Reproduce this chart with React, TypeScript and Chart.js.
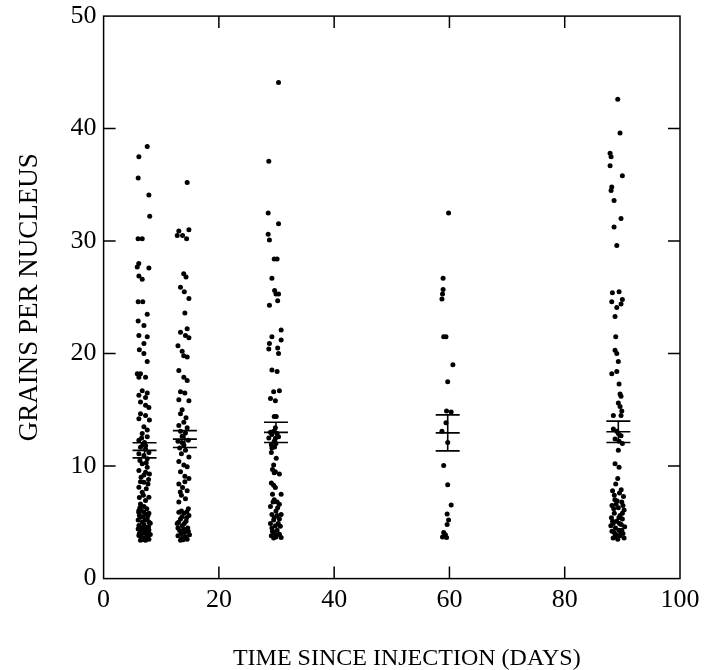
import React, { useEffect, useRef } from "react";
import { Chart, registerables } from "chart.js";

Chart.register(...registerables);

// x range and tick step (days), y range and tick step (grains)
const xTickStep = 20;
const yTickStep = 10;
const xTitle = "TIME SINCE INJECTION (DAYS)";
const yTitle = "GRAINS PER NUCLEUS";

// Individual nuclei, [day (jittered), grains]
const day7Points: [number, number][] = [
  [7.57, 38.4], [6.12, 37.5], [6.0, 35.6], [7.86, 34.1], [8.0, 32.2], [5.98, 30.2], [6.7, 30.2],
  [6.1, 28.0], [5.84, 27.7], [7.86, 27.6], [6.12, 26.9], [6.7, 26.6], [6.0, 24.6], [6.8, 24.6],
  [7.57, 23.5], [6.0, 22.9], [7.0, 22.5],
  [6.12, 21.6], [7.57, 21.5], [7.0, 20.9], [6.2, 20.35], [6.99, 20.0], [7.57, 19.3],
  [5.84, 18.2], [6.4, 18.2], [7.28, 17.9], [6.12, 17.9],
  [6.7, 16.7], [7.57, 16.5], [6.12, 16.3], [7.28, 16.1],
  [6.4, 15.7], [7.28, 15.4], [7.86, 15.2],
  [6.4, 14.65], [7.28, 14.5], [6.12, 14.2], [7.95, 14.1],
  [6.99, 13.5], [7.57, 13.2], [6.7, 12.9],
  [7.57, 12.6], [6.12, 12.3], [7.1, 12.1], [6.6, 12.5], [6.8, 11.9], [7.3, 11.8],
  [6.4, 11.68], [7.28, 11.5], [7.86, 11.2], [6.12, 11.1], [6.99, 10.95], [7.57, 10.66],
  [6.3, 10.5], [7.4, 10.3],
  [6.7, 10.2], [7.57, 9.9], [6.12, 9.6], [7.28, 9.46], [7.95, 9.3], [7.0, 9.2], [6.5, 9.0],
  [7.8, 8.8], [6.4, 8.6],
  [6.99, 8.57], [7.7, 8.42], [6.12, 8.13], [7.4, 7.98], [6.7, 7.68], [6.9, 7.4], [6.2, 7.2],
  [7.86, 7.24], [7.28, 6.94], [6.4, 6.64], [7.0, 6.4], [6.3, 6.3], [7.5, 6.2], [6.6, 6.0],
  [6.12, 6.05], [6.99, 5.9], [6.1, 5.9], [7.86, 5.81], [7.4, 5.7], [6.8, 5.5], [6.4, 5.46],
  [7.57, 5.3], [6.0, 5.2], [6.7, 5.0], [7.9, 5.0], [8.1, 4.92],
  [6.12, 4.71], [7.8, 4.6], [7.28, 4.57], [6.9, 4.4], [7.86, 4.33], [7.3, 4.3], [6.4, 4.27],
  [6.99, 4.03], [6.2, 4.0], [8.1, 3.92], [6.12, 3.83], [7.65, 3.8],
  [7.4, 3.68], [6.5, 3.7], [6.7, 3.5], [7.86, 3.5], [7.1, 3.45], [6.4, 3.4], [7.28, 3.4],
  [6.2, 5.6], [7.2, 5.2], [6.6, 4.5], [7.6, 4.1], [6.0, 4.4], [7.0, 4.8], [6.9, 3.6], [7.7, 5.6], [6.3, 3.9],
];

const day14Points: [number, number][] = [
  [14.5, 35.2], [13.05, 30.9], [14.8, 31.0], [12.77, 30.5], [13.7, 30.5], [14.4, 30.2], [13.9, 27.1],
  [14.3, 26.8], [13.34, 25.9], [14.0, 25.5], [14.8, 24.9], [14.1, 23.6], [14.5, 22.2],
  [13.34, 21.9], [14.2, 21.6], [14.8, 21.4], [12.9, 20.7], [13.63, 20.2], [13.9, 19.8], [14.5, 19.7],
  [13.05, 18.5], [13.92, 17.9], [14.5, 17.6],
  [13.34, 16.6], [14.1, 16.5], [13.05, 15.9], [14.8, 15.8],
  [13.63, 15.0], [13.34, 14.65], [14.3, 14.3], [13.92, 13.9], [13.05, 13.6], [14.5, 13.4],
  [13.34, 13.1], [14.2, 12.95], [13.63, 12.65], [12.9, 12.2], [14.7, 12.3], [13.6, 12.1], [13.92, 11.85],
  [13.2, 11.6], [14.2, 11.4], [13.5, 11.1], [14.8, 10.8], [13.05, 10.4], [13.92, 10.1], [14.5, 9.95],
  [13.34, 9.5], [14.1, 9.1], [14.8, 8.9], [14.1, 8.6],
  [13.05, 8.4], [13.7, 8.1], [14.5, 7.8], [13.3, 7.7], [13.5, 7.4], [14.2, 7.1], [13.05, 6.8],
  [14.7, 6.2], [13.5, 6.0], [14.45, 5.95],
  [13.05, 5.9], [13.92, 5.8], [14.8, 5.6], [13.6, 5.5], [14.4, 5.4], [13.34, 5.3], [14.3, 5.1],
  [13.0, 5.0], [12.77, 4.9], [14.0, 4.9], [13.63, 4.7], [14.6, 4.5], [12.9, 4.5], [13.9, 4.4],
  [13.2, 4.27], [14.7, 4.2], [14.1, 4.1], [13.5, 4.0], [14.9, 3.9], [12.9, 3.8], [14.2, 3.7],
  [13.7, 3.65], [14.5, 3.5], [13.8, 3.45], [13.34, 3.4],
];

const day30Points: [number, number][] = [
  [30.35, 44.1], [28.66, 37.1], [28.55, 32.5], [30.35, 31.55], [28.55, 30.6], [28.77, 30.1],
  [29.6, 28.4], [30.1, 28.4], [29.2, 26.7], [29.67, 25.6], [29.9, 25.3], [30.35, 25.3], [30.2, 24.7],
  [28.77, 24.3], [30.8, 22.1], [29.2, 21.5], [30.8, 21.2], [28.77, 20.9], [28.66, 20.4], [30.2, 20.5],
  [30.35, 20.0], [29.2, 18.55], [30.1, 18.4], [29.5, 16.6], [30.5, 16.7], [28.95, 16.0], [29.8, 15.8],
  [29.6, 14.4], [29.95, 14.4],
  [29.8, 13.4], [29.5, 13.1], [28.95, 13.0], [30.1, 12.9], [29.2, 12.8], [30.35, 12.6], [28.66, 12.5],
  [29.8, 12.45], [29.6, 12.2], [29.9, 12.0], [29.1, 11.9], [29.2, 11.6], [29.67, 11.7], [29.1, 11.2],
  [29.95, 10.7], [29.5, 10.1], [29.3, 9.7], [29.6, 9.4], [30.5, 9.3], [29.8, 9.5],
  [29.1, 8.5], [29.5, 8.3], [29.8, 8.1], [29.3, 7.5], [30.8, 7.5],
  [29.6, 7.0], [30.1, 6.8], [29.4, 6.8], [30.5, 6.6], [28.95, 6.4], [30.2, 6.3], [29.9, 6.0],
  [29.2, 5.7], [30.1, 5.6], [30.8, 5.7], [29.6, 5.4], [30.5, 5.3], [29.5, 5.2],
  [28.95, 4.9], [30.3, 4.9], [29.8, 4.7], [30.66, 4.65], [29.2, 4.5], [30.1, 4.3], [29.3, 4.2],
  [29.5, 4.1], [30.5, 3.95], [30.0, 3.9],
  [29.1, 3.8], [29.9, 3.7], [30.8, 3.65], [29.5, 3.6],
];

const day60Points: [number, number][] = [
  [59.85, 32.5], [58.9, 26.7], [58.9, 25.7], [58.8, 25.3], [58.7, 24.85], [59.0, 21.5], [59.4, 21.5],
  [60.6, 19.0], [59.7, 17.5], [59.5, 14.9], [60.3, 14.8], [59.4, 13.85], [58.7, 13.1], [59.7, 12.1],
  [59.0, 10.05], [59.7, 8.35], [60.3, 6.55], [59.6, 5.75], [59.85, 5.2], [59.6, 4.8], [59.0, 4.1],
  [59.3, 3.9], [58.8, 3.7], [59.5, 3.65],
];

const day90Points: [number, number][] = [
  [89.2, 42.6], [89.6, 39.6], [87.87, 37.8], [88.04, 37.5], [87.87, 36.7], [90.0, 35.8], [88.16, 34.8],
  [88.04, 34.5], [88.56, 33.6], [89.77, 32.0], [88.56, 31.25], [89.03, 29.6], [88.27, 25.4],
  [89.43, 25.5], [88.16, 24.6], [89.77, 24.4], [89.03, 24.1], [90.0, 24.8], [88.73, 23.3],
  [88.85, 21.5], [88.73, 20.3], [89.03, 20.0], [89.3, 19.3], [88.16, 18.2], [89.03, 18.4],
  [89.43, 17.3], [89.6, 16.4], [89.77, 16.2], [89.3, 15.6], [89.6, 15.3], [89.9, 14.9], [88.44, 14.5],
  [89.77, 14.5],
  [89.03, 13.1], [89.3, 12.9], [89.77, 12.7], [88.73, 12.4], [89.43, 12.2], [88.44, 13.3],
  [90.0, 12.0], [89.3, 11.4], [88.73, 10.2], [89.43, 9.9], [89.2, 8.9], [88.85, 8.4],
  [89.8, 7.9], [88.3, 7.8], [89.5, 7.6], [88.6, 7.4], [90.2, 7.3], [88.7, 7.0], [89.1, 6.9],
  [89.9, 6.8], [88.9, 6.6], [88.2, 6.5], [90.1, 6.5], [89.3, 6.3], [88.5, 6.2],
  [90.3, 6.1], [88.6, 5.8], [90.0, 5.8], [89.6, 5.6], [88.1, 5.4], [89.4, 5.4], [90.0, 5.3],
  [89.0, 5.1], [88.3, 5.1], [88.4, 4.9], [89.5, 4.9],
  [89.8, 4.8], [88.0, 4.7], [90.4, 4.6], [88.8, 4.5], [89.4, 4.3], [89.9, 4.3], [88.2, 4.2],
  [88.6, 4.1], [89.7, 4.1], [90.1, 4.0], [88.9, 3.9],
  [89.6, 3.8], [88.7, 3.7], [88.4, 3.6], [90.3, 3.6], [89.2, 3.5],
];

// Group means with standard errors
const barX = [7.1, 14.1, 29.9, 59.7, 89.3];
const barMean = [11.4, 12.4, 13.0, 12.95, 13.05];
const barSE = [0.67, 0.75, 0.9, 1.6, 0.95];

const FONT = "'Liberation Serif', 'Times New Roman', serif";

const framePlugin = {
  id: "frameTicks",
  afterDatasetsDraw(chart: any) {
    const { ctx, chartArea: a, scales } = chart;
    const xs = scales.x;
    const ys = scales.y;
    const L = 12;
    ctx.save();
    ctx.strokeStyle = "#000";
    ctx.lineWidth = 1.5;
    ctx.strokeRect(a.left, a.top, a.right - a.left, a.bottom - a.top);
    ctx.beginPath();
    xs.ticks.forEach((t: any) => {
      if (t.value <= xs.min || t.value >= xs.max) return;
      const px = xs.getPixelForValue(t.value);
      ctx.moveTo(px, a.bottom);
      ctx.lineTo(px, a.bottom - L);
      ctx.moveTo(px, a.top);
      ctx.lineTo(px, a.top + L);
    });
    ys.ticks.forEach((t: any) => {
      if (t.value <= ys.min || t.value >= ys.max) return;
      const py = ys.getPixelForValue(t.value);
      ctx.moveTo(a.left, py);
      ctx.lineTo(a.left + L, py);
      ctx.moveTo(a.right, py);
      ctx.lineTo(a.right - L, py);
    });
    ctx.stroke();

    // x-axis title, set slightly right of the plot centre as in the original figure
    ctx.fillStyle = "#000";
    ctx.font = `24px ${FONT}`;
    ctx.textAlign = "center";
    ctx.textBaseline = "middle";
    ctx.fillText(xTitle, (a.left + a.right) / 2 + 15, a.bottom + 80);
    ctx.restore();
  },
};

export default function App() {
  const ref = useRef<HTMLCanvasElement | null>(null);

  useEffect(() => {
    if (!ref.current) return;
    const toXY = (arr: [number, number][]) => arr.map(([x, y]) => ({ x, y }));
    const dotStyle = {
      pointRadius: 2.5,
      pointBackgroundColor: "#000",
      pointBorderWidth: 0,
      showLine: false,
    };
    const capStyle = {
      pointStyle: "line" as const,
      pointRadius: 12,
      pointBorderColor: "#000",
      pointBorderWidth: 1.6,
      showLine: false,
    };
    const vertical: any[] = [];
    barX.forEach((x, i) => {
      vertical.push({ x, y: barMean[i] - barSE[i] });
      vertical.push({ x, y: barMean[i] + barSE[i] });
      vertical.push({ x, y: null });
    });

    const chart = new Chart(ref.current, {
      type: "scatter",
      data: {
        datasets: [
          { label: "7", data: toXY(day7Points), ...dotStyle },
          { label: "14", data: toXY(day14Points), ...dotStyle },
          { label: "30", data: toXY(day30Points), ...dotStyle },
          { label: "60", data: toXY(day60Points), ...dotStyle },
          { label: "90", data: toXY(day90Points), ...dotStyle },
          { label: "upper", data: barX.map((x, i) => ({ x, y: barMean[i] + barSE[i] })), ...capStyle },
          { label: "mean", data: barX.map((x, i) => ({ x, y: barMean[i] })), ...capStyle },
          { label: "lower", data: barX.map((x, i) => ({ x, y: barMean[i] - barSE[i] })), ...capStyle },
          {
            label: "se",
            data: vertical,
            showLine: true,
            spanGaps: false,
            pointRadius: 0,
            borderColor: "#000",
            borderWidth: 1.6,
          },
        ],
      },
      options: {
        animation: false,
        responsive: true,
        maintainAspectRatio: false,
        layout: { padding: { left: 0, right: 28, top: 10, bottom: 47.4 } },
        plugins: { legend: { display: false }, tooltip: { enabled: false } },
        scales: {
          x: {
            type: "linear",
            min: 0,
            max: 100,
            grid: { display: false, drawTicks: false },
            border: { display: false },
            ticks: {
              stepSize: xTickStep,
              maxRotation: 0,
              padding: 6.4,
              color: "#000",
              font: { family: FONT, size: 26, lineHeight: 1.2 },
            },
            title: { display: false, text: xTitle },
          },
          y: {
            type: "linear",
            min: 0,
            max: 50,
            grid: { display: false, drawTicks: false },
            border: { display: false },
            ticks: {
              stepSize: yTickStep,
              padding: 7,
              color: "#000",
              font: { family: FONT, size: 26, lineHeight: 0.7 },
            },
            title: {
              display: true,
              text: yTitle,
              color: "#000",
              font: { family: FONT, size: 27, lineHeight: 1.2 },
              padding: { top: 13.8, bottom: 17.4 },
            },
          },
        },
      },
      plugins: [framePlugin],
    });
    return () => chart.destroy();
  }, []);

  return (
    <div style={{ position: "fixed", left: 0, top: 0, width: 708, height: 670, background: "#fff" }}>
      <canvas ref={ref} />
    </div>
  );
}
